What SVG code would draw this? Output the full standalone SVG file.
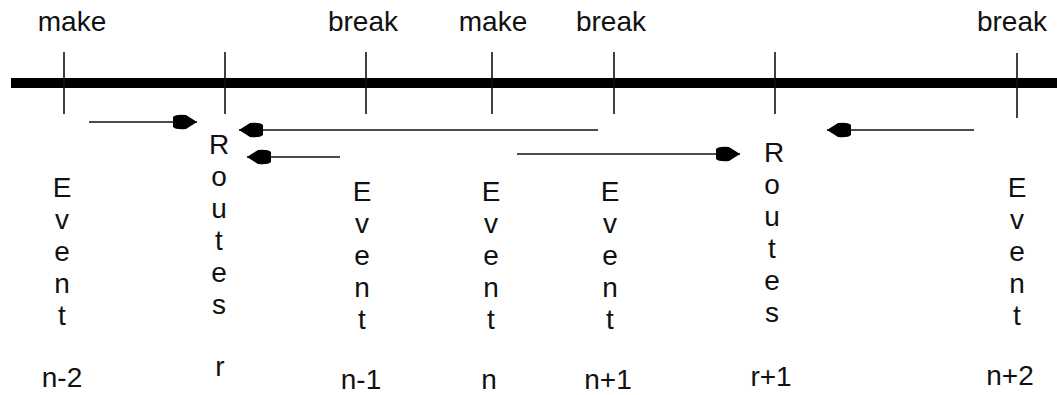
<svg xmlns="http://www.w3.org/2000/svg" width="1057" height="395" viewBox="0 0 1057 395">
  <style>
    text { font-family: "Liberation Sans", Arial, sans-serif; font-size: 28px; fill: #111; text-anchor: middle; }
    .tick { stroke: #111; stroke-width: 1.6; }
    .axis { stroke: #000; stroke-width: 10; }
    .flow { stroke: #111; stroke-width: 1.6; fill: none; marker-end: url(#head); }
  </style>
  <defs>
    <marker id="head" markerUnits="userSpaceOnUse" viewBox="-1 -9 27 18" markerWidth="27" markerHeight="18" refX="24" refY="0" orient="auto">
      <path d="M24,0 L13,-7 Q3,-8 0,-5 L0,5 Q3,8 13,7 Z" fill="#000"/>
    </marker>
  </defs>
  <rect width="1057" height="395" fill="#fff"/>

  <!-- time axis with event ticks -->
  <g id="timeline">
    <line class="axis" x1="11" y1="83" x2="1057" y2="83"/>
    <line class="tick" x1="64" y1="52" x2="64" y2="114"/>
    <line class="tick" x1="225" y1="52" x2="225" y2="114"/>
    <line class="tick" x1="366" y1="52" x2="366" y2="114"/>
    <line class="tick" x1="492" y1="52" x2="492" y2="114"/>
    <line class="tick" x1="614" y1="52" x2="614" y2="114"/>
    <line class="tick" x1="775" y1="52" x2="775" y2="114"/>
    <line class="tick" x1="1017" y1="53" x2="1017" y2="118"/>
  </g>

  <g id="event-n-2">
    <text x="72" y="31">make</text>
    <text><tspan x="62" y="197">E</tspan><tspan x="62" dy="32">v</tspan><tspan x="62" dy="32">e</tspan><tspan x="62" dy="32">n</tspan><tspan x="62" dy="32">t</tspan></text>
    <text x="62" y="387">n-2</text>
  </g>

  <g id="routes-r">
    <text><tspan x="219" y="154">R</tspan><tspan x="219" dy="32">o</tspan><tspan x="219" dy="32">u</tspan><tspan x="219" dy="32">t</tspan><tspan x="219" dy="32">e</tspan><tspan x="219" dy="32">s</tspan></text>
    <text x="220" y="376">r</text>
  </g>

  <g id="event-n-1">
    <text x="363" y="31">break</text>
    <text><tspan x="362" y="201">E</tspan><tspan x="362" dy="32">v</tspan><tspan x="362" dy="32">e</tspan><tspan x="362" dy="32">n</tspan><tspan x="362" dy="32">t</tspan></text>
    <text x="361" y="389">n-1</text>
  </g>

  <g id="event-n">
    <text x="493" y="31">make</text>
    <text><tspan x="491" y="201">E</tspan><tspan x="491" dy="32">v</tspan><tspan x="491" dy="32">e</tspan><tspan x="491" dy="32">n</tspan><tspan x="491" dy="32">t</tspan></text>
    <text x="489" y="389">n</text>
  </g>

  <g id="event-n+1">
    <text x="611" y="31">break</text>
    <text><tspan x="610" y="201">E</tspan><tspan x="610" dy="32">v</tspan><tspan x="610" dy="32">e</tspan><tspan x="610" dy="32">n</tspan><tspan x="610" dy="32">t</tspan></text>
    <text x="608" y="389">n+1</text>
  </g>

  <g id="routes-r+1">
    <text><tspan x="774" y="162">R</tspan><tspan x="772" dy="32">o</tspan><tspan x="772" dy="32">u</tspan><tspan x="772" dy="32">t</tspan><tspan x="772" dy="32">e</tspan><tspan x="772" dy="32">s</tspan></text>
    <text x="771" y="386">r+1</text>
  </g>

  <g id="event-n+2">
    <text x="1012" y="31">break</text>
    <text><tspan x="1017" y="197">E</tspan><tspan x="1017" dy="32">v</tspan><tspan x="1017" dy="32">e</tspan><tspan x="1017" dy="32">n</tspan><tspan x="1017" dy="32">t</tspan></text>
    <text x="1010" y="385">n+2</text>
  </g>

  <!-- route flow arrows -->
  <g id="connectors">
    <line class="flow" x1="89" y1="122" x2="197" y2="122"/>
    <line class="flow" x1="598" y1="130" x2="239" y2="130"/>
    <line class="flow" x1="340" y1="157" x2="247" y2="157"/>
    <line class="flow" x1="517" y1="154" x2="740" y2="154"/>
    <line class="flow" x1="974" y1="130" x2="827" y2="130"/>
  </g>
</svg>
